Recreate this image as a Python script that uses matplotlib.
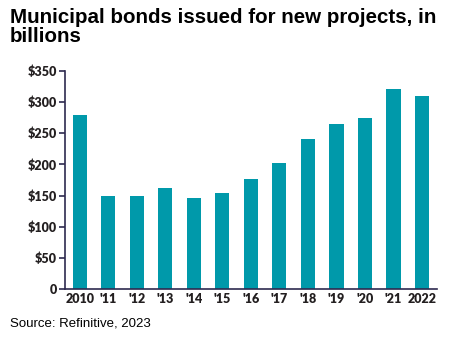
import matplotlib.pyplot as plt

# data
years = ['2010', "'11", "'12", "'13", "'14", "'15", "'16", "'17", "'18", "'19", "'20", "'21", '2022']
bonds = [279, 150, 149, 162, 146, 154, 177, 203, 241, 265, 275, 320, 309]
yticks = [0, 50, 100, 150, 200, 250, 300, 350]
ylabels = ['0', '$50', '$100', '$150', '$200', '$250', '$300', '$350']

bar_color = '#0099aa'
axis_color = '#2e2a4f'
label_color = '#231f20'

fig = plt.figure(figsize=(4.5, 3.39), dpi=100)
ax = fig.add_axes([65/450, 1-289.3/339, (437-65)/450, 218.6/339*400/350])

ax.bar(range(len(years)), bonds, width=0.5, color=bar_color, zorder=2)
ax.set_xlim(-0.52, 12.53)
ax.set_ylim(0, 400)

ax.set_yticks(yticks)
ax.set_yticklabels(ylabels, fontfamily='Lato', fontweight='heavy', fontsize=9, color=label_color)
ax.set_xticks(range(len(years)))
ax.set_xticklabels(years, fontfamily='Lato', fontweight='heavy', fontsize=9, color=label_color)

for s in ['top', 'right']:
    ax.spines[s].set_visible(False)
ax.spines['left'].set_color(axis_color)
ax.spines['bottom'].set_color(axis_color)
ax.spines['left'].set_linewidth(1.2)
ax.spines['bottom'].set_linewidth(1.2)
ax.spines['left'].set_bounds(0, 350)
ax.tick_params(axis='y', length=4, width=1.2, color=axis_color, pad=2)
ax.tick_params(axis='x', length=0, pad=3)

fig.text(10/450, 1-8/339, 'Municipal bonds issued for new projects, in\nbillions',
         ha='left', va='top', fontfamily='Liberation Sans', fontweight='bold',
         fontsize=14.8, color='black', linespacing=1.0)
fig.text(10/450, 1-327/339, 'Source: Refinitive, 2023', ha='left', va='baseline',
         fontfamily='Liberation Sans', fontsize=9.5, color='black')

plt.savefig('out.png', dpi=100)
